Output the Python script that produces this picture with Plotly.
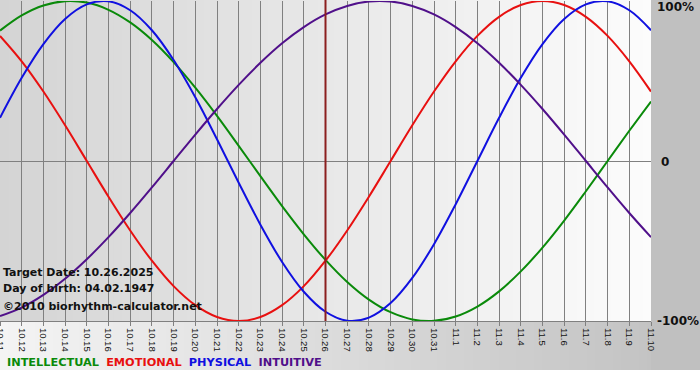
import plotly.graph_objects as go

# ---- data (percent values read per day) ----
days = ["10.11", "10.12", "10.13", "10.14", "10.15", "10.16", "10.17", "10.18", "10.19", "10.20",
        "10.21", "10.22", "10.23", "10.24", "10.25", "10.26", "10.27", "10.28", "10.29", "10.30",
        "10.31", "11.1", "11.2", "11.3", "11.4", "11.5", "11.6", "11.7", "11.8", "11.9", "11.10"]

intellectual = [81.5, 91.0, 97.2, 99.9, 99.0, 94.5, 86.6, 75.6, 61.8, 45.8, 28.2, 9.5, -9.5, -28.2,
                -45.8, -61.8, -75.6, -86.6, -94.5, -99.0, -99.9, -97.2, -91.0, -81.5, -69.0, -54.1,
                -37.2, -18.9, 0.0, 18.9, 37.2]
emotional = [78.2, 62.3, 43.4, 22.3, 0.0, -22.3, -43.4, -62.3, -78.2, -90.1, -97.5, -100.0, -97.5,
             -90.1, -78.2, -62.3, -43.4, -22.3, 0.0, 22.3, 43.4, 62.3, 78.2, 90.1, 97.5, 100.0, 97.5,
             90.1, 78.2, 62.3, 43.4]
physical = [27.0, 52.0, 73.1, 88.8, 97.9, 99.8, 94.2, 81.7, 63.1, 39.8, 13.6, -13.6, -39.8, -63.1,
            -81.7, -94.2, -99.8, -97.9, -88.8, -73.1, -52.0, -27.0, 0.0, 27.0, 52.0, 73.1, 88.8,
            97.9, 99.8, 94.2, 81.7]
intuitive = [-96.9, -91.6, -83.7, -73.6, -61.4, -47.6, -32.5, -16.5, 0.0, 16.5, 32.5, 47.6, 61.4,
             73.6, 83.7, 91.6, 96.9, 99.7, 99.7, 96.9, 91.6, 83.7, 73.6, 61.4, 47.6, 32.5, 16.5,
             0.0, -16.5, -32.5, -47.6]

series_names = ["INTELLECTUAL", "EMOTIONAL", "PHYSICAL", "INTUITIVE"]
series_colors = ["#0a8a0a", "#e81010", "#1010e0", "#50108a"]
target_day = "10.26"
info_lines = ["Target Date: 10.26.2025", "Day of birth: 04.02.1947", "\u00a92010 biorhythm-calculator.net"]
y_labels = ["100%", "0", "-100%"]
y_label_vals = [100, 0, -100]

# ---- figure ----
W, H = 700, 380
L, R, T, B = 0, 49, 1, 59
pw, ph = W - L - R, H - T - B

x_idx = list(range(len(days)))
fig = go.Figure()
for name, vals, col in zip(series_names, [intellectual, emotional, physical, intuitive], series_colors):
    fig.add_trace(go.Scatter(x=x_idx, y=vals, mode="lines", name=name,
                             line=dict(color=col, width=2, shape="spline", smoothing=1.0),
                             hoverinfo="skip", cliponaxis=True))

shapes = []


def lerp(c1, c2, t):
    return "rgb(%d,%d,%d)" % tuple(round(a + (b - a) * t) for a, b in zip(c1, c2))


# plot area gradient (left grey -> right near white)
n = 80
for k in range(n):
    t = k / (n - 1)
    shapes.append(dict(type="rect", xref="paper", yref="paper", x0=k / n, x1=(k + 1) / n + 0.002,
                       y0=0, y1=1.01, fillcolor=lerp((212, 212, 212), (252, 252, 252), t),
                       line=dict(width=0), layer="below"))
# bottom band gradient (light left -> grey right)
band_bottom = -(370 - (T + ph)) / ph
full_right = (W - L) / pw
for k in range(n):
    t = k / (n - 1)
    shapes.append(dict(type="rect", xref="paper", yref="paper", x0=full_right * k / n,
                       x1=full_right * (k + 1) / n + 0.002, y0=band_bottom, y1=0,
                       fillcolor=lerp((244, 244, 244), (192, 192, 192), t),
                       line=dict(width=0), layer="below"))
# right grey column
shapes.append(dict(type="rect", xref="paper", yref="paper", x0=1, x1=full_right + 0.01,
                   y0=band_bottom, y1=1.01, fillcolor="#c0c0c0", line=dict(width=0), layer="below"))
# target day marker
ti = days.index(target_day)
shapes.append(dict(type="line", xref="x", yref="paper", x0=ti, x1=ti, y0=0, y1=1.01,
                   line=dict(color="#8b1f1f", width=2), layer="above"))

annotations = []
for i, txt in enumerate(info_lines):
    annotations.append(dict(xref="paper", yref="paper", x=0.0, y=[0.153, 0.103, 0.044][i],
                            xanchor="left", yanchor="middle", xshift=1, text="<b>%s</b>" % txt,
                            showarrow=False, font=dict(family="DejaVu Sans", size=11, color="#111")))
for lab, v in zip(y_labels, y_label_vals):
    annotations.append(dict(xref="paper", yref="y", x=1, y=v, xanchor="left", yanchor="middle",
                            xshift=4 if lab != "0" else 8, yshift=-6 if v == 100 else (-1 if v == 0 else 0),
                            text="<b>%s</b>" % lab, showarrow=False,
                            font=dict(family="DejaVu Sans", size=12, color="#111")))
legend_txt = "&nbsp;&nbsp;".join('<span style="color:%s"><b>%s</b></span>' % (c, nme)
                                 for nme, c in zip(series_names, series_colors))
annotations.append(dict(xref="paper", yref="paper", x=0, y=-(362 - (T + ph)) / ph, xanchor="left",
                        yanchor="middle", xshift=5, text=legend_txt, showarrow=False,
                        font=dict(family="DejaVu Sans", size=11.3)))

fig.update_layout(
    width=W, height=H, margin=dict(l=L, r=R, t=T, b=B, pad=0),
    paper_bgcolor="#ffffff", plot_bgcolor="rgba(0,0,0,0)",
    showlegend=False, shapes=shapes, annotations=annotations,
    xaxis=dict(range=[0, len(days) - 1], tickmode="array", tickvals=x_idx, ticktext=days,
               tickangle=90, ticks="outside", ticklen=4, tickcolor="#808080",
               tickfont=dict(family="Liberation Sans", size=9.5, color="#111"),
               ticklabeloverflow="allow",
               showgrid=True, gridcolor="#808080", gridwidth=1, showline=True,
               linecolor="#808080", linewidth=1, zeroline=False, automargin=False, fixedrange=True),
    yaxis=dict(range=[-100, 100], showgrid=False, zeroline=True, zerolinecolor="#808080",
               zerolinewidth=1, showticklabels=False, automargin=False, fixedrange=True),
)

fig.write_html("out.html", config={"displayModeBar": False},
               post_script="document.body.style.margin='0';document.body.style.overflow='hidden';")
